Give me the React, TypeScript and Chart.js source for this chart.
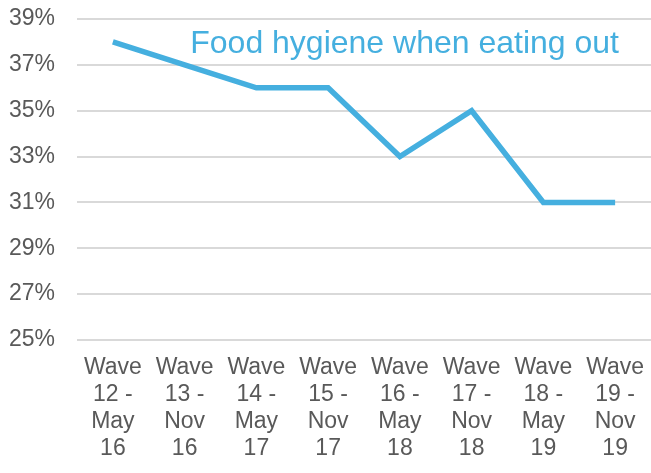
import React, { useEffect, useRef } from "react";
import { Chart, registerables } from "chart.js";

Chart.register(...registerables);

const categories: string[][] = [
  ["Wave", "12 -", "May", "16"],
  ["Wave", "13 -", "Nov", "16"],
  ["Wave", "14 -", "May", "17"],
  ["Wave", "15 -", "Nov", "17"],
  ["Wave", "16 -", "May", "18"],
  ["Wave", "17 -", "Nov", "18"],
  ["Wave", "18 -", "May", "19"],
  ["Wave", "19 -", "Nov", "19"],
];
const seriesLabel = "Food hygiene when eating out";
const seriesValues = [38, 37, 36, 36, 33, 35, 31, 31];
const yMin = 25;
const yMax = 39;
const yStep = 2;

const BLUE = "#45AFDF";
const GRAY = "#595959";
const FONT = '"Liberation Sans", Arial, sans-serif';

const labelPlugin = {
  id: "seriesLabel",
  afterDatasetsDraw(chart: any) {
    const { ctx, chartArea } = chart;
    ctx.save();
    ctx.font = `32px ${FONT}`;
    ctx.fillStyle = BLUE;
    ctx.textAlign = "right";
    ctx.textBaseline = "alphabetic";
    ctx.fillText(seriesLabel, chartArea.right - 32, chartArea.top + 34);
    ctx.restore();
  },
};

export default function App() {
  const ref = useRef<HTMLCanvasElement | null>(null);
  useEffect(() => {
    if (!ref.current) return;
    const chart = new Chart(ref.current, {
      type: "line",
      data: {
        labels: categories,
        datasets: [
          {
            label: seriesLabel,
            data: seriesValues,
            borderColor: BLUE,
            backgroundColor: BLUE,
            borderWidth: 5.5,
            pointRadius: 0,
            pointHoverRadius: 0,
            tension: 0,
            fill: false,
          },
        ],
      },
      options: {
        animation: false,
        responsive: false,
        maintainAspectRatio: false,
        layout: { padding: { left: 8, right: 0, top: 19, bottom: 0 } },
        plugins: {
          legend: { display: false },
          title: { display: false },
          tooltip: { enabled: false },
        },
        scales: {
          x: {
            offset: true,
            grid: { display: false, drawTicks: false },
            border: { display: false },
            afterFit: (s: any) => {
              s.height = 133;
              s.paddingLeft = 0;
              s.paddingRight = 0;
              s.paddingTop = 0;
              s.paddingBottom = 0;
            },
            ticks: {
              color: GRAY,
              font: { family: FONT, size: 23, lineHeight: 1.18 },
              padding: 14,
              maxRotation: 0,
              autoSkip: false,
            },
          },
          y: {
            min: yMin,
            max: yMax,
            grid: { color: "#D9D9D9", lineWidth: 2, drawTicks: false },
            border: { display: false },
            afterFit: (s: any) => {
              s.width = 69;
              s.paddingLeft = 0;
              s.paddingRight = 0;
              s.paddingTop = 0;
              s.paddingBottom = 0;
            },
            ticks: {
              stepSize: yStep,
              color: GRAY,
              padding: 22,
              font: { family: FONT, size: 23 },
              callback: (v: any) => `${v}%`,
            },
          },
        },
      },
      plugins: [labelPlugin],
    });
    return () => chart.destroy();
  }, []);
  return (
    <div style={{ position: "fixed", left: 0, top: 0, width: 651, height: 473, background: "#fff" }}>
      <canvas ref={ref} width={651} height={473} style={{ display: "block" }} />
    </div>
  );
}
